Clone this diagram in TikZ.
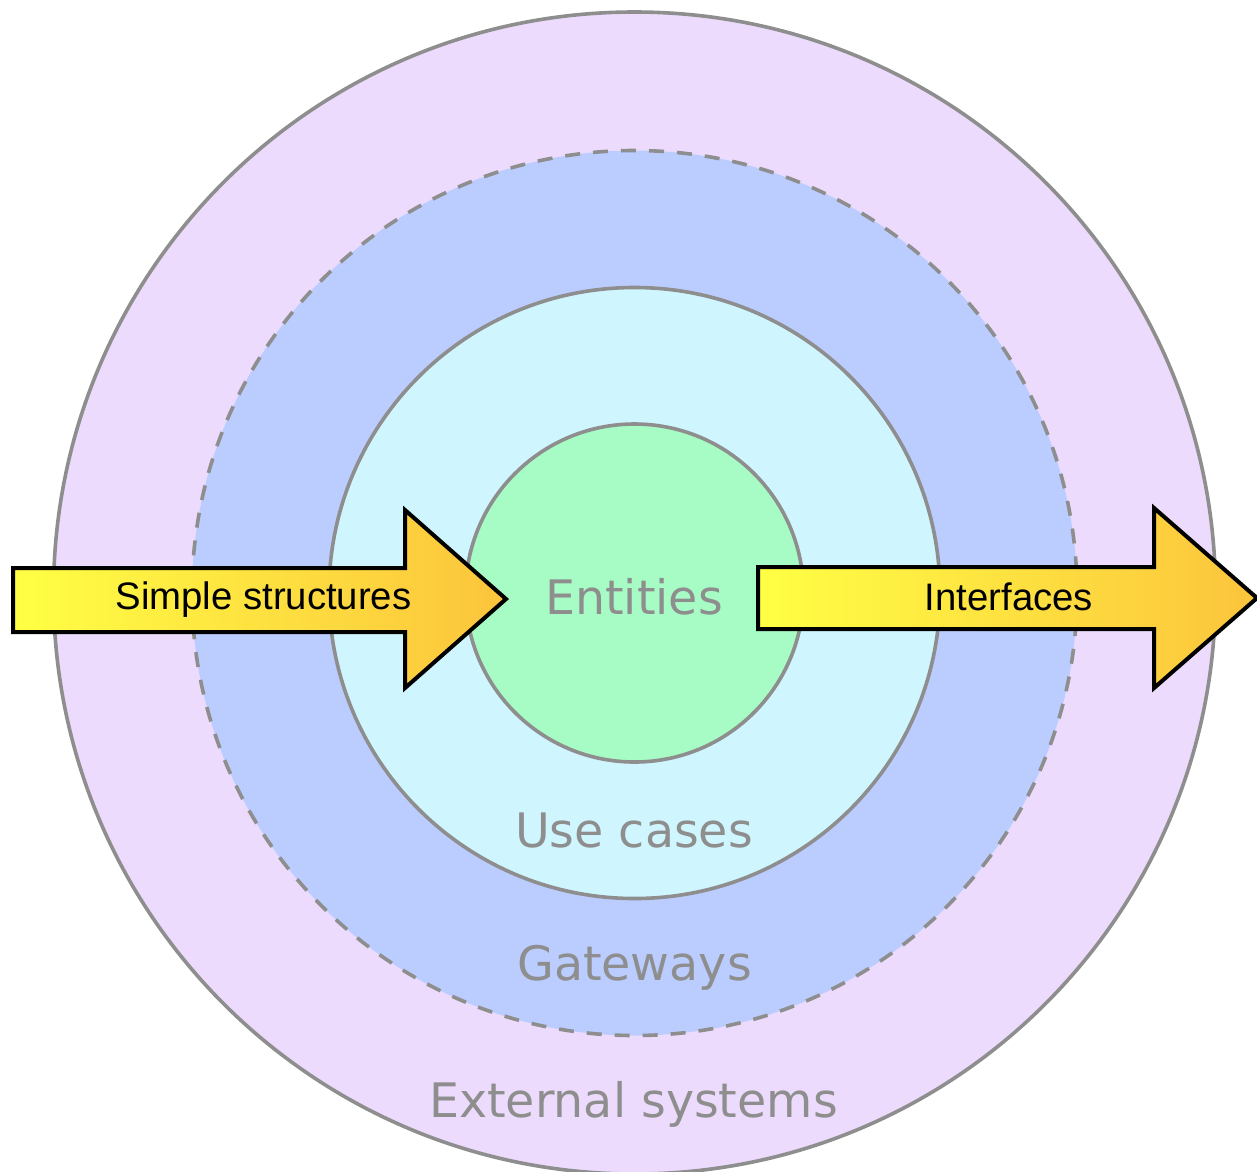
\documentclass[tikz,border=0pt]{standalone}
\usepackage{fontspec}
\newfontfamily\layerfont{DejaVu Sans}
\newfontfamily\arrowfont{Liberation Sans}
\definecolor{ringline}{RGB}{142,142,142}
\definecolor{extfill}{RGB}{236,219,252}
\definecolor{gatefill}{RGB}{187,204,255}
\definecolor{usefill}{RGB}{207,246,255}
\definecolor{entfill}{RGB}{166,252,196}
\definecolor{arrowleft}{RGB}{255,255,68}
\definecolor{arrowright}{RGB}{252,196,60}
\tikzset{
  layer/.style={draw=ringline, line width=3.6pt},
  layername/.style={anchor=base, inner sep=0pt, text=ringline,
    font=\layerfont\fontsize{47.5}{57}\selectfont},
  flowarrow/.style={draw=black, line width=4pt, line join=miter,
    left color=arrowleft, right color=arrowright},
  flowname/.style={anchor=base, inner sep=0pt, text=black,
    font=\arrowfont\fontsize{38.3}{46}\selectfont}
}

\begin{document}
\begin{tikzpicture}[x=1pt,y=-1pt]
\useasboundingbox (0,0) rectangle (1257,1171);
\coordinate (centre) at (634.5,593);

% the four layers, outside in
\draw[layer, fill=extfill] (centre) circle (581);
\draw[layer, fill=gatefill, dash pattern=on 15pt off 13pt] (centre) circle (442.5);
\draw[layer, fill=usefill] (centre) circle (305.5);
\draw[layer, fill=entfill] (centre) circle (169);

\node[layername] (entities) at (634,614) {Entities};
\node[layername] (usecases) at (634,847) {Use cases};
\node[layername] (gateways) at (634.5,980) {Gateways};
\node[layername] (external) at (633.5,1117) {External systems};

% arrow in
\draw[flowarrow] (13,568) -- (405,568) -- (405,510) -- (506,599)
  -- (405,688) -- (405,632) -- (13,632) -- cycle;
\node[flowname] (simple) at (263.5,609) {Simple structures};

% arrow out
\draw[flowarrow] (758,567) -- (1154,567) -- (1154,508) -- (1257,598)
  -- (1154,688) -- (1154,629) -- (758,629) -- cycle;
\node[flowname] (interfaces) at (1009,610) {Interfaces};
\end{tikzpicture}
\end{document}
